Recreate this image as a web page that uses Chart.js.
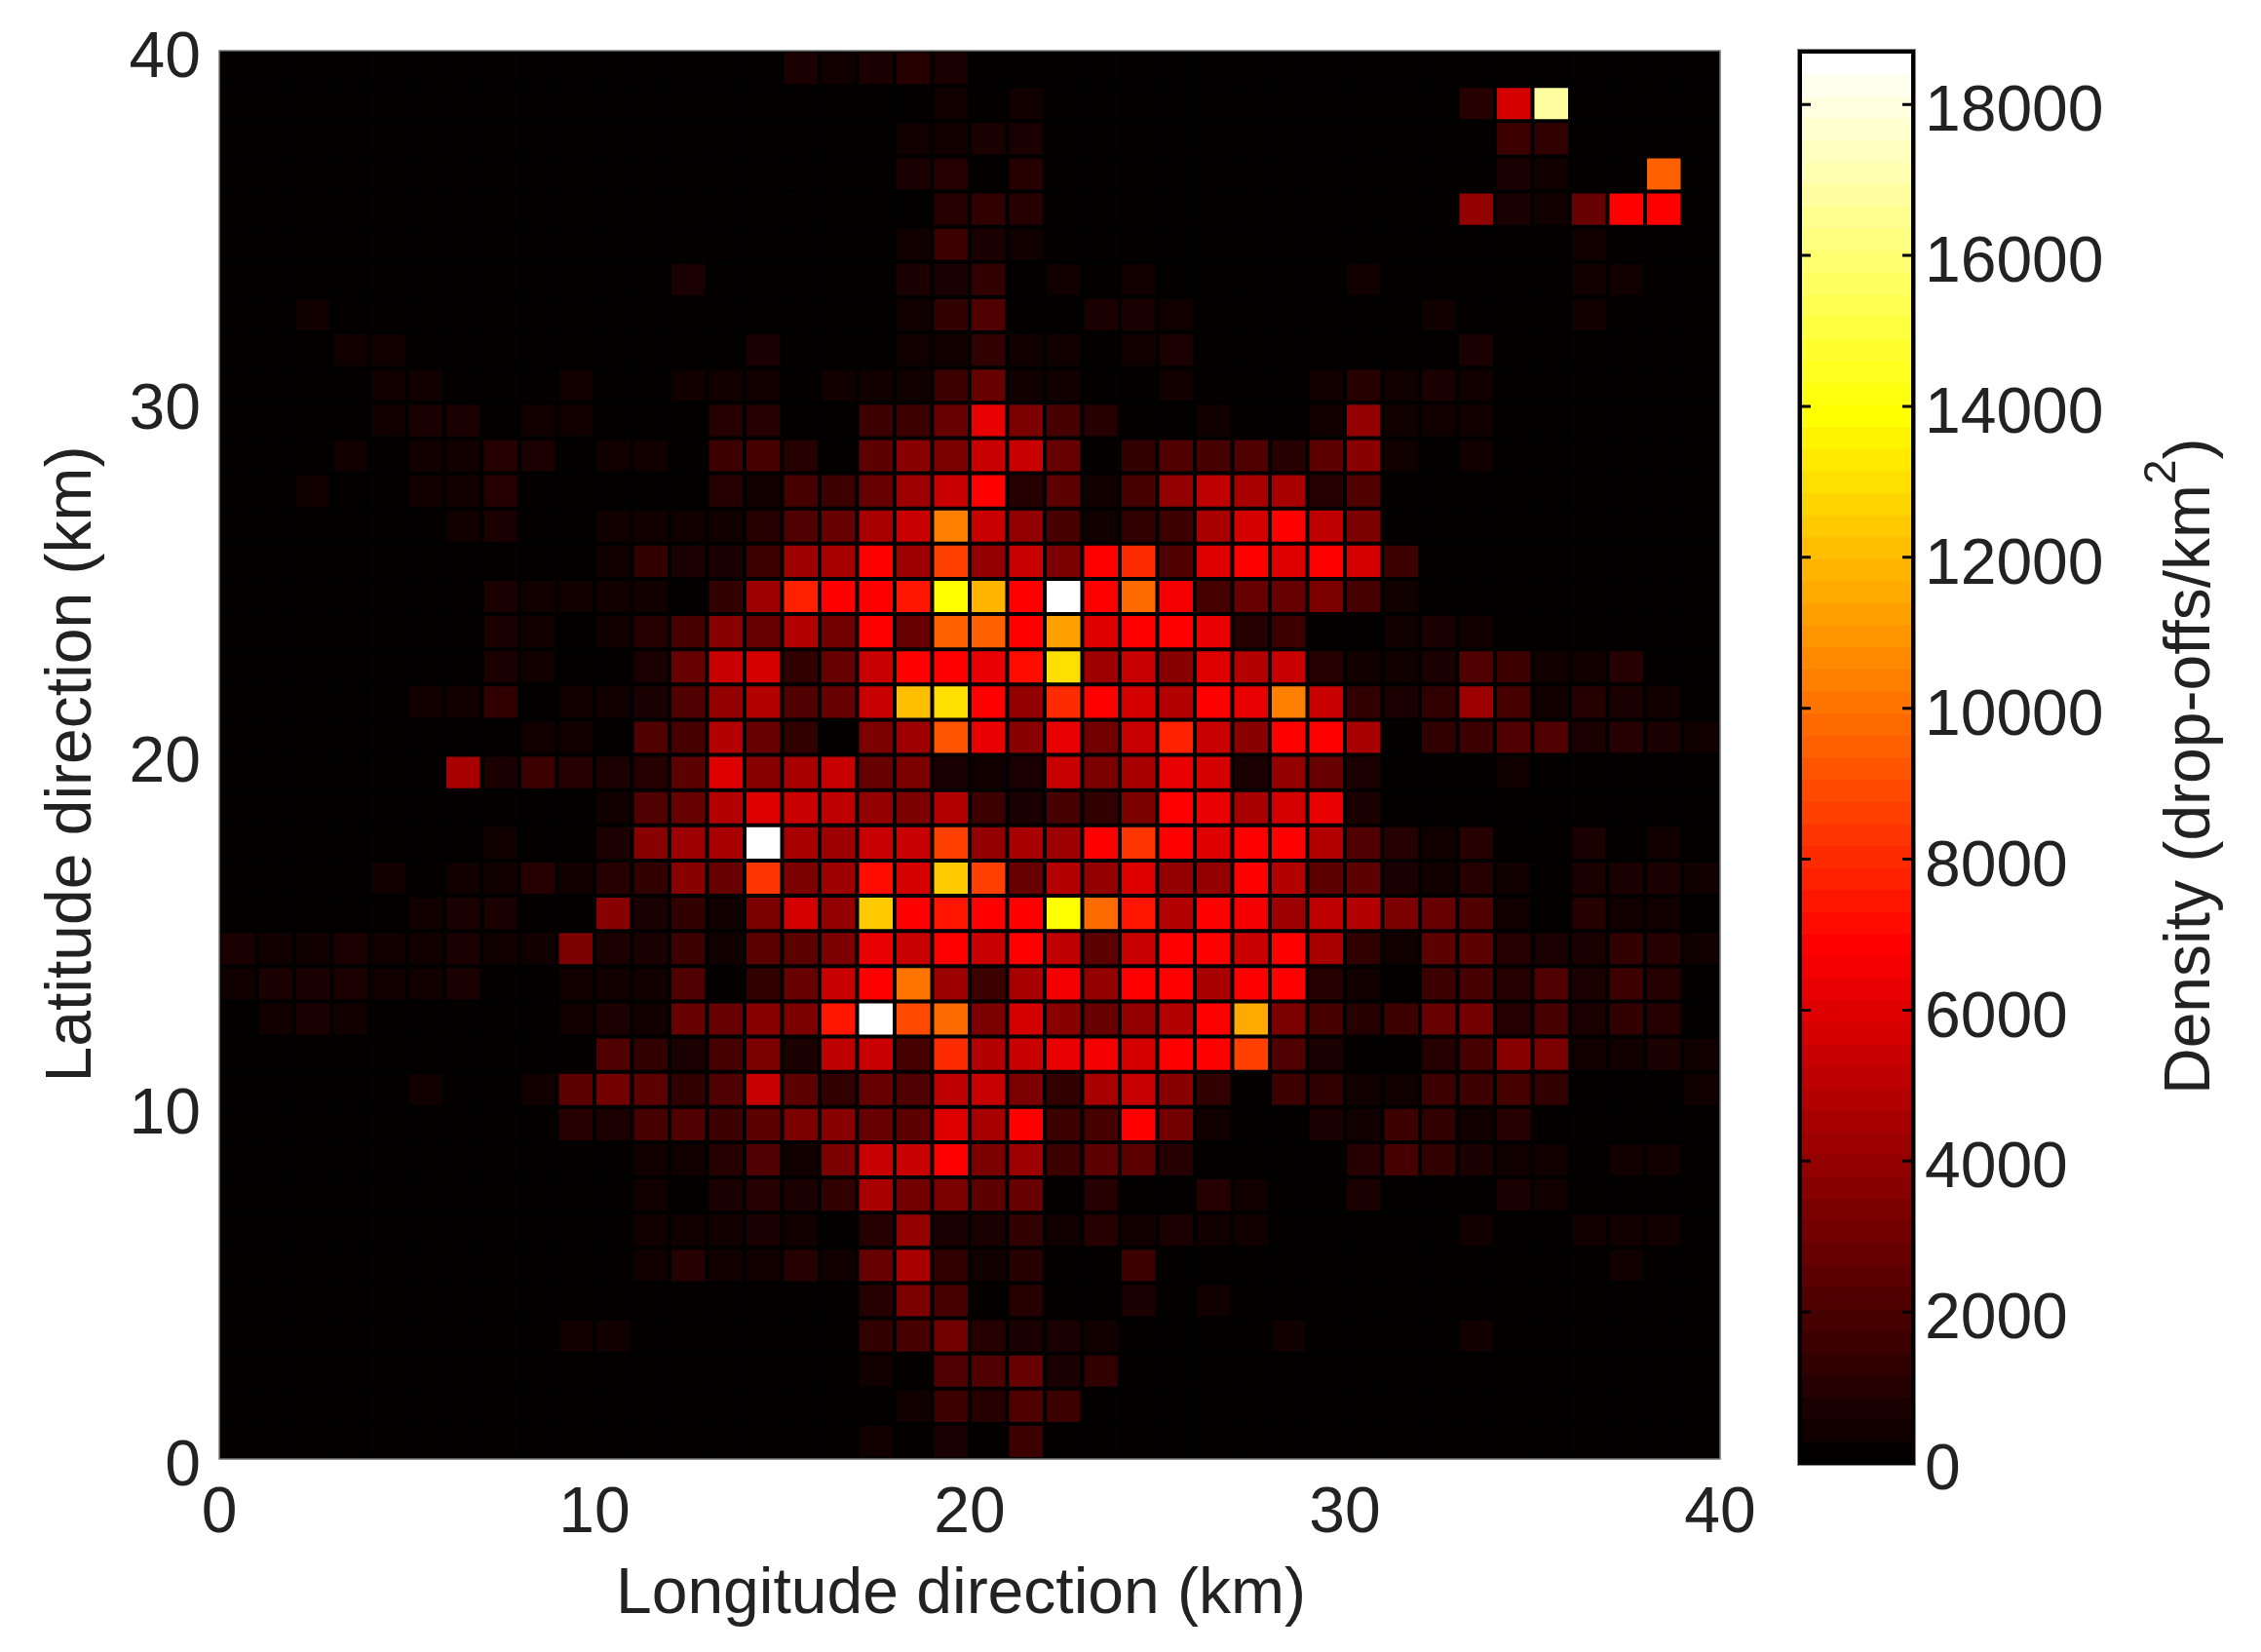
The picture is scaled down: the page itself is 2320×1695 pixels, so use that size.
<!DOCTYPE html>
<html>
<head>
<meta charset="utf-8">
<title>Drop-off density</title>
<script src="https://cdn.jsdelivr.net/npm/chart.js@4/dist/chart.umd.min.js"></script>
<style>
  html, body { margin: 0; background: #fff; }
  canvas { position: absolute; top: 0; }
  #density-chart { left: 0; }
  #colorbar-chart { left: 1800px; }
</style>
</head>
<body>
<canvas id="density-chart" width="1830" height="1695"></canvas>
<canvas id="colorbar-chart" width="520" height="1695"></canvas>
<script>
// Axes
const kmTicks = [0, 10, 20, 30, 40];
const colorbarTicks = [0, 2000, 4000, 6000, 8000, 10000, 12000, 14000, 16000, 18000];
const densityMax = 18700;
const gridSize = 40;

// Density, one line per 1 km row, top row (39-40 km) first.
// {column: drop-offs/km2}, cells not listed are in the lowest colour
const densityRows = [
  {15:700,16:450,17:700,18:1100,19:650},
  {19:450,21:500,33:1100,34:5800,35:16700},
  {18:450,19:400,20:700,21:800,34:1700,35:1400},
  {18:700,19:1000,21:1000,34:800,35:350,38:9600},
  {19:1100,20:1400,21:1100,33:4000,34:800,35:400,36:2900,37:7000,38:7000},
  {18:450,19:1700,20:700,21:450,36:450},
  {12:700,18:700,19:800,20:1300,22:350,24:350,30:350,36:400,37:400},
  {2:350,18:450,19:1400,20:2200,23:600,24:600,25:400,32:400,36:450},
  {3:350,4:350,14:700,18:400,19:350,20:1300,21:350,22:350,24:300,25:600,33:700},
  {4:400,5:450,9:400,12:400,13:500,14:400,16:300,17:450,18:300,19:1700,20:2800,21:350,22:500,25:300,29:300,30:900,31:350,32:600,33:350},
  {4:400,5:700,6:700,8:450,9:400,13:1000,14:1000,17:1500,18:1700,19:2900,20:6400,21:3500,22:2000,23:1000,26:350,29:300,30:4000,31:300,32:300,33:350},
  {3:350,5:350,6:500,7:1000,8:750,10:400,11:450,13:1500,14:1900,15:1100,17:2600,18:3700,19:3300,20:5500,21:5500,22:2800,24:1300,25:2200,26:1900,27:2100,28:1100,29:2500,30:3600,31:350,33:350},
  {2:350,5:350,6:300,7:1000,13:900,14:400,15:1800,16:1600,17:2900,18:4200,19:5300,20:7000,21:1100,22:2600,23:400,24:1900,25:4000,26:5200,27:4600,28:4400,29:1100,30:2300},
  {6:400,7:600,10:350,11:450,12:400,13:350,14:1100,15:2200,16:2900,17:4600,18:5300,19:10400,20:5300,21:3800,22:2000,23:350,24:1400,25:1700,26:4600,27:5700,28:7000,29:5200,30:3300},
  {10:400,11:1300,12:750,13:800,14:1700,15:4100,16:4600,17:7000,18:4200,19:8700,20:3900,21:5300,22:3500,23:7000,24:8100,25:2100,26:6000,27:6800,28:6100,29:6900,30:5700,31:1700},
  {7:750,8:400,9:400,10:400,11:350,13:1200,14:4100,15:7800,16:7000,17:7000,18:7400,19:14000,20:11700,21:7000,22:18500,23:7000,24:9800,25:6600,26:2000,27:2800,28:2900,29:3500,30:2000,31:350},
  {7:600,8:400,10:350,11:1000,12:2000,13:3700,14:2800,15:4800,16:3100,17:7000,18:2900,19:9400,20:9600,21:7000,22:11200,23:5900,24:7000,25:7000,26:6300,27:1100,28:1700,31:300,32:700,33:350},
  {7:600,8:350,11:600,12:2900,13:5500,14:5700,15:1200,16:2900,17:5400,18:7000,19:7000,20:6400,21:7300,22:13100,23:4300,24:5500,25:3700,26:6100,27:4800,28:5300,29:1100,30:350,31:300,32:700,33:2100,34:1500,35:400,36:550,37:1000},
  {5:350,6:400,7:1400,9:350,10:350,11:600,12:2200,13:3900,14:4800,15:2100,16:2800,17:5300,18:12000,19:12900,20:7000,21:3900,22:7900,23:7000,24:5700,25:4800,26:7000,27:6400,28:10500,29:5500,30:1300,31:700,32:1400,33:4200,34:1800,35:350,36:900,37:600,38:350},
  {8:350,9:400,11:2200,12:1800,13:4800,14:2900,15:1300,17:3400,18:4300,19:9300,20:6400,21:3700,22:6300,23:3100,24:5500,25:7800,26:5500,27:3700,28:7000,29:6900,30:4400,32:1400,33:1600,34:2200,35:2100,36:700,37:1000,38:800,39:400},
  {6:4400,7:600,8:1500,9:1100,10:600,11:900,12:2600,13:6100,14:3700,15:4400,16:5400,17:2900,18:3300,19:700,20:450,21:750,22:5500,23:3300,24:4600,25:6400,26:5700,27:700,28:4000,29:2800,30:600,34:300},
  {10:350,11:2100,12:2900,13:4800,14:6100,15:5500,16:5000,17:4000,18:3500,19:4800,20:1500,21:800,22:1900,23:1400,24:3300,25:7000,26:6400,27:4600,28:5800,29:6300,30:750},
  {7:300,10:700,11:3700,12:4100,13:4600,14:18700,15:4600,16:4100,17:5500,18:5400,19:8700,20:3800,21:4600,22:4200,23:7000,24:8200,25:7000,26:6000,27:7000,28:6900,29:4900,30:2200,31:900,32:350,33:1000,36:700,38:350},
  {4:300,6:350,7:350,8:1100,9:350,10:1000,11:1300,12:3700,13:2800,14:8400,15:3500,16:4100,17:7200,18:5600,19:12400,20:8500,21:2900,22:4800,23:3900,24:5900,25:4000,26:3800,27:7000,28:4700,29:2500,30:2600,31:600,32:400,33:1100,34:300,36:800,37:650,38:600,39:350},
  {5:350,6:600,7:600,10:3700,11:600,12:1400,13:300,14:3500,15:5700,16:3900,17:12500,18:7000,19:7400,20:7000,21:7000,22:14000,23:9900,24:7400,25:4700,26:7000,27:6500,28:4200,29:5100,30:4700,31:3500,32:2900,33:2200,34:300,36:1000,37:350,38:350},
  {0:600,1:350,2:350,3:600,4:350,5:400,6:600,7:350,8:350,9:3500,10:600,11:600,12:1600,13:300,14:2400,15:2500,16:3500,17:6400,18:5300,19:7000,20:5300,21:7000,22:5000,23:2500,24:5300,25:7000,26:7000,27:5500,28:7000,29:4600,30:1300,31:350,32:2600,33:2400,34:1100,35:700,36:800,37:1400,38:1000,39:400},
  {0:400,1:600,2:600,3:600,4:350,5:350,6:600,9:300,10:300,11:300,12:2200,13:200,14:1400,15:2900,16:5300,17:7000,18:10200,19:4100,20:1600,21:4600,22:6700,23:4000,24:6800,25:7000,26:4400,27:7000,28:7000,29:1100,30:500,32:1600,33:2000,34:1100,35:2200,36:800,37:1600,38:1100,39:200},
  {1:350,2:600,3:400,9:300,10:600,11:500,12:2900,13:2800,14:3700,15:3500,16:7500,17:18500,18:9000,19:9800,20:3300,21:5700,22:3700,23:2900,24:4000,25:4700,26:7000,27:11400,28:3300,29:1900,30:900,31:1500,32:2900,33:3200,34:1100,35:1900,36:800,37:1300,38:900,39:200},
  {10:2100,11:1300,12:800,13:2000,14:3300,15:800,16:5000,17:5300,18:2000,19:8000,20:4800,21:5500,22:6300,23:6600,24:5700,25:7000,26:7000,27:8700,28:2100,29:600,32:1100,33:2000,34:3600,35:3300,36:500,37:350,38:800,39:400},
  {5:350,8:350,9:2500,10:3100,11:2500,12:1200,13:2200,14:5400,15:2500,16:1300,17:2800,18:2200,19:5000,20:5500,21:3300,22:1200,23:4600,24:5500,25:3700,26:1300,28:1700,29:1200,30:300,31:400,32:1700,33:1500,34:2000,35:1200,39:400},
  {9:1100,10:800,11:2000,12:2200,13:1600,14:2600,15:3500,16:3700,17:2900,18:2600,19:6100,20:4400,21:7000,22:1500,23:2000,24:7000,25:3000,26:300,29:600,30:350,31:1500,32:1200,33:350,34:1100},
  {11:300,12:300,13:1100,14:2200,15:300,16:3500,17:5400,18:5300,19:7000,20:3500,21:4200,22:1600,23:2500,24:2500,25:900,30:900,31:1800,32:1200,33:700,34:350,35:300,37:300,38:300},
  {11:300,13:700,14:1000,15:800,16:1400,17:4600,18:3100,19:3400,20:2500,21:2800,22:200,23:1000,26:1000,27:300,30:600,34:600,35:350},
  {11:300,12:300,13:300,14:600,15:500,16:200,17:900,18:4000,19:800,20:600,21:1200,22:300,23:900,24:300,25:600,26:400,27:300,33:300,36:300,37:300,38:300},
  {11:300,12:1100,13:300,14:300,15:900,16:300,17:2700,18:4400,19:1200,20:300,21:900,24:1500,37:300},
  {17:900,18:3500,19:1900,20:100,21:900,24:700,26:300},
  {9:300,10:300,17:1200,18:2000,19:3100,20:1000,21:800,22:700,23:400,28:300,33:300},
  {17:300,19:2200,20:2200,21:2900,22:600,23:1300},
  {18:300,19:1600,20:900,21:2200,22:1700},
  {17:300,19:700,20:200,21:1500}
];

const textColor = '#222';
const fontFamily = '"Liberation Sans"';
const tickFont = { family: fontFamily, size: 66 };
const titleSize = 66;

// "hot" colormap, 64 levels, red ramp starting a bit darker than Matlab's
function hotColor(value) {
  const level = Math.min(63, Math.floor(value / densityMax * 64)) + 1;
  const clamp = v => Math.round(255 * Math.max(0, Math.min(1, v)));
  return `rgb(${clamp((level - 0.5) / 23.5)},${clamp((level - 24) / 24)},${clamp((level - 48) / 16)})`;
}

// Cells
const cells = [];
const cellColors = [];
densityRows.forEach((row, r) => {
  for (let c = 0; c < gridSize; c++) {
    const lat = gridSize - 1 - r;
    cells.push({ x: c + 0.5, y: [lat, lat + 1] });
    cellColors.push(hotColor(row[c] || 0));
  }
});

// Black behind the cells, grey frame around the plot
const plotFramePlugin = {
  id: 'plotFrame',
  beforeDatasetsDraw(chart) {
    const { ctx, chartArea: a } = chart;
    ctx.fillStyle = '#000';
    ctx.fillRect(a.left, a.top, a.right - a.left, a.bottom - a.top);
  },
  afterDatasetsDraw(chart) {
    const { ctx, chartArea: a } = chart;
    ctx.save();
    ctx.strokeStyle = '#777';
    ctx.lineWidth = 1.5;
    ctx.strokeRect(a.left, a.top, a.right - a.left, a.bottom - a.top);
    ctx.restore();
  }
};

// Axis titles, at the reference's own offsets from the plot
function drawTitle(ctx, x, y, rotated, parts) {
  ctx.save();
  ctx.translate(x, y);
  if (rotated) ctx.rotate(-Math.PI / 2);
  ctx.fillStyle = textColor;
  ctx.textBaseline = 'alphabetic';
  let cursor = 0;
  parts.forEach(p => {
    ctx.font = `${p.size}px ${fontFamily}`;
    ctx.fillText(p.text, cursor, -(p.raise || 0));
    cursor += ctx.measureText(p.text).width;
  });
  ctx.restore();
}

const mainTitlesPlugin = {
  id: 'mainTitles',
  afterDraw(chart) {
    const { ctx } = chart;
    ctx.font = `${titleSize}px ${fontFamily}`;
    const xTitle = 'Longitude direction (km)';
    const yTitle = 'Latitude direction (km)';
    drawTitle(ctx, 986 - ctx.measureText(xTitle).width / 2, 1655, false, [{ text: xTitle, size: titleSize }]);
    drawTitle(ctx, 93, 784 + ctx.measureText(yTitle).width / 2, true, [{ text: yTitle, size: titleSize }]);
  }
};

// Colorbar frame, inward ticks on both sides, title with raised exponent
const colorbarDecorPlugin = {
  id: 'colorbarDecor',
  afterDatasetsDraw(chart) {
    const { ctx, chartArea: a, scales } = chart;
    ctx.save();
    ctx.strokeStyle = '#000';
    ctx.lineWidth = 4;
    ctx.strokeRect(a.left, a.top, a.right - a.left, a.bottom - a.top);
    ctx.lineWidth = 3;
    colorbarTicks.forEach(v => {
      if (v === 0) return;
      const y = scales.y.getPixelForValue(v);
      ctx.beginPath();
      ctx.moveTo(a.left, y); ctx.lineTo(a.left + 11, y);
      ctx.moveTo(a.right, y); ctx.lineTo(a.right - 11, y);
      ctx.stroke();
    });
    ctx.strokeStyle = '#888';
    ctx.lineWidth = 1;
    ctx.strokeRect(a.left - 2.5, a.top - 2.5, a.right - a.left + 5, a.bottom - a.top + 5);
    ctx.restore();
  },
  afterDraw(chart) {
    drawTitle(chart.ctx, 467, 1123, true, [
      { text: 'Density (drop-offs/km', size: titleSize },
      { text: '2', size: 46, raise: 35 },
      { text: ')', size: titleSize }
    ]);
  }
};

new Chart(document.getElementById('density-chart'), {
  type: 'bar',
  data: {
    datasets: [{
      data: cells,
      backgroundColor: cellColors,
      borderColor: '#000',
      borderWidth: 2,
      borderSkipped: false,
      inflateAmount: 0,
      barPercentage: 1,
      categoryPercentage: 1
    }]
  },
  plugins: [plotFramePlugin, mainTitlesPlugin],
  options: {
    responsive: false,
    animation: false,
    devicePixelRatio: 1,
    events: [],
    layout: { padding: { top: 52, right: 65, left: 0, bottom: 0 } },
    plugins: { legend: { display: false }, tooltip: { enabled: false } },
    scales: {
      x: {
        type: 'linear', min: 0, max: 40, offset: false,
        grid: { display: false }, border: { display: false },
        afterBuildTicks: s => { s.ticks = kmTicks.map(v => ({ value: v })); },
        afterFit: s => { s.height = 198; s.paddingLeft = 0; s.paddingRight = 0; },
        ticks: { font: tickFont, color: textColor, maxRotation: 0, padding: 9 }
      },
      y: {
        type: 'linear', min: 0, max: 40,
        grid: { display: false }, border: { display: false },
        afterBuildTicks: s => { s.ticks = kmTicks.map(v => ({ value: v })); },
        afterFit: s => { s.width = 225; s.paddingTop = 0; s.paddingBottom = 0; },
        ticks: { font: tickFont, color: textColor, padding: 11, labelOffset: 9 }
      }
    }
  }
});

// Colorbar: one floating bar per colour level
const levelBars = [];
const levelColors = [];
for (let i = 0; i < 64; i++) {
  const lo = i * densityMax / 64;
  levelBars.push({ x: 0.5, y: [lo, lo + densityMax / 64] });
  levelColors.push(hotColor(lo + 1));
}

new Chart(document.getElementById('colorbar-chart'), {
  type: 'bar',
  data: {
    datasets: [{
      data: levelBars,
      backgroundColor: levelColors,
      borderWidth: 0,
      inflateAmount: 0.5,
      barPercentage: 1,
      categoryPercentage: 1
    }]
  },
  plugins: [colorbarDecorPlugin],
  options: {
    responsive: false,
    animation: false,
    devicePixelRatio: 1,
    events: [],
    layout: { padding: { top: 53, left: 47, right: 0, bottom: 194 } },
    plugins: { legend: { display: false }, tooltip: { enabled: false } },
    scales: {
      x: {
        type: 'linear', min: 0, max: 1, offset: false, display: false,
        afterBuildTicks: s => { s.ticks = [{ value: 0 }, { value: 1 }]; }
      },
      y: {
        type: 'linear', position: 'right', min: 0, max: densityMax,
        grid: { display: false }, border: { display: false },
        afterBuildTicks: s => { s.ticks = colorbarTicks.map(v => ({ value: v })); },
        afterFit: s => { s.width = 357; s.paddingTop = 0; s.paddingBottom = 0; },
        ticks: { font: tickFont, color: textColor, padding: 4, autoSkip: false, labelOffset: 9, callback: v => String(v) }
      }
    }
  }
});
</script>
</body>
</html>
